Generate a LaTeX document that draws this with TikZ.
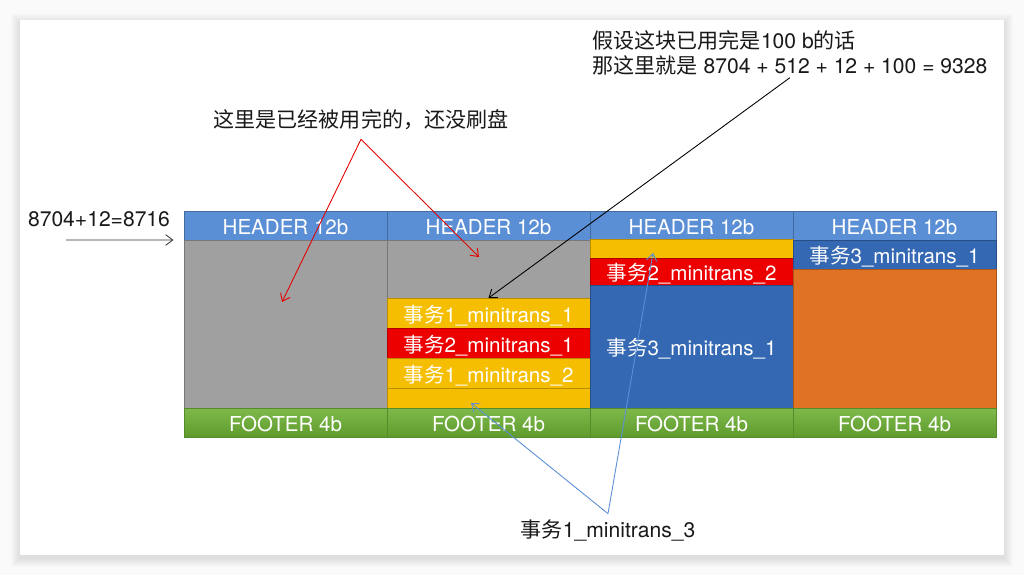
\documentclass[tikz,border=0pt]{standalone}
\usepackage{fontspec}
\setmainfont{TeX Gyre Heros}
\newfontfamily\cjk{Noto Sans CJK SC}
\usetikzlibrary{arrows.meta}
\definecolor{hdblue}{HTML}{5B8FD5}
\definecolor{usedgray}{HTML}{A0A0A0}
\definecolor{mtyellow}{HTML}{F5BE00}
\definecolor{mtred}{HTML}{EC0000}
\definecolor{mtblue}{HTML}{3468B3}
\definecolor{mtorange}{HTML}{E07323}
\definecolor{fttop}{HTML}{7FB94C}
\definecolor{ftbot}{HTML}{5E9B2C}
\definecolor{linkblue}{HTML}{5B8FD6}

\begin{document}
\begin{tikzpicture}[x=0.02cm,y=-0.02cm,>={Straight Barb[length=4pt,width=6pt]},
  every node/.style={font=\fontsize{11.7}{14}\selectfont},
  cell/.style={draw=#1!75!black,line width=0.4pt,fill=#1,text=white,
    minimum width=4.06cm,inner sep=0pt,outer sep=0pt,text height=10.5pt,text depth=0pt},
  foot/.style={draw=ftbot!90!black,line width=0.4pt,top color=fttop,bottom color=ftbot,
    text=white,minimum width=4.06cm,minimum height=0.58cm,inner sep=0pt,outer sep=0pt,
    text height=10.5pt,text depth=0pt},
  note/.style={text=black!90,inner sep=0pt,font=\fontsize{12}{14.6}\selectfont}]
  \useasboundingbox (0,0) rectangle (1024,575);
  \fill[black!2] (0,0) rectangle (1024,575);
  % soft shadow of the slide
  \foreach \i in {1,...,9}
    \fill[black,opacity=0.012] (20-\i,20-\i+3) rectangle (1004+\i,555+\i+3);
  \fill[white] (20,20) rectangle (1004,555);
  % headers
  \node[cell=hdblue,minimum height=0.58cm] (h1) at (285.5,225.5) {HEADER 12b};
  \node[cell=hdblue,minimum height=0.58cm] (h2) at (488.5,225.5) {HEADER 12b};
  \node[cell=hdblue,minimum height=0.58cm] (h3) at (691.5,225.5) {HEADER 12b};
  \node[cell=hdblue,minimum height=0.58cm] (h4) at (894.5,225.5) {HEADER 12b};
  % page 1
  \node[cell=usedgray,minimum height=3.36cm] (g1) at (285.5,324) {};
  % page 2
  \node[cell=usedgray,minimum height=1.16cm] (g2) at (488.5,269) {};
  \node[cell=mtyellow,minimum height=0.61cm] (y1) at (488.5,313.25) {{\cjk 事务}1\_minitrans\_1};
  \node[cell=mtred,minimum height=0.6cm] (r1) at (488.5,343.5) {{\cjk 事务}2\_minitrans\_1};
  \node[cell=mtyellow,minimum height=0.59cm] (y2) at (488.5,373.25) {{\cjk 事务}1\_minitrans\_2};
  \node[cell=mtyellow,minimum height=0.4cm] (y3) at (488.5,398) {};
  % page 3
  \node[cell=mtyellow,minimum height=0.36cm] (y4) at (691.5,249) {};
  \node[cell=mtred,minimum height=0.54cm] (r2) at (691.5,271.5) {{\cjk 事务}2\_minitrans\_2};
  \node[cell=mtblue,minimum height=2.46cm] (b1) at (691.5,346.5) {{\cjk 事务}3\_minitrans\_1};
  % page 4
  \node[cell=mtblue,minimum height=0.58cm] (b2) at (894.5,254.5) {{\cjk 事务}3\_minitrans\_1};
  \node[cell=mtorange,minimum height=2.78cm] (o1) at (894.5,338.5) {};
  % footers
  \node[foot] (f1) at (285.5,422.5) {FOOTER 4b};
  \node[foot] (f2) at (488.5,422.5) {FOOTER 4b};
  \node[foot] (f3) at (691.5,422.5) {FOOTER 4b};
  \node[foot] (f4) at (894.5,422.5) {FOOTER 4b};
  % notes
  \node[note] (start) at (99,219) {8704+12=8716};
  \coordinate (startL) at (66,240);
  \draw[->,black!80,line width=0.5pt] (startL) -- ([xshift=-6pt]h1.south west);
  \node[note] (used) at (361,120) {\cjk 这里是已经被用完的，还没刷盘};
  \coordinate (usedA) at (282,302);
  \coordinate (usedB) at (479,257);
  \draw[->,red!90!black,line width=0.5pt] ([yshift=-5pt]used.south) -- (usedA);
  \draw[->,red!90!black,line width=0.5pt] ([yshift=-5pt]used.south) -- (usedB);
  \node[note,align=left,anchor=north west] (calc) at (592,30)
    {{\cjk 假设这块已用完是}100 b{\cjk 的话}\\{\cjk 那这里就是} 8704 + 512 + 12 + 100 = 9328};
  \draw[->,black,line width=0.5pt] ([yshift=-1pt]calc.south) -- (y1.north);
  \node[note] (mt3) at (608,530) {{\cjk 事务}1\_minitrans\_3};
  \coordinate (mtA) at (471,403);
  \coordinate (mtB) at (653,253);
  \draw[->,linkblue,line width=0.5pt] ([yshift=3pt]mt3.north) -- (mtA);
  \draw[->,linkblue,line width=0.5pt] ([yshift=3pt]mt3.north) -- (mtB);
\end{tikzpicture}
\end{document}
